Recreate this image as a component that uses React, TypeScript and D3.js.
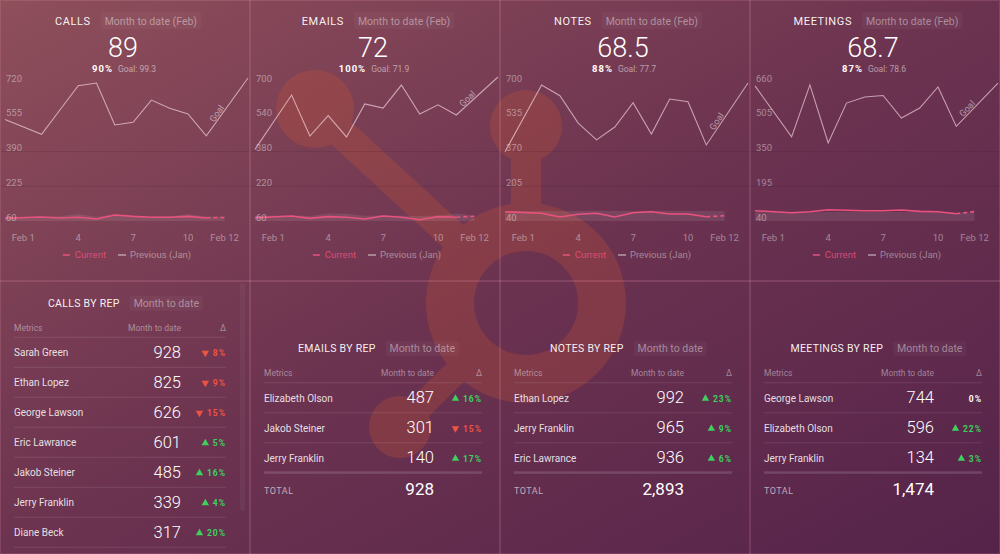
import React from 'react';
import * as d3 from 'd3';

const W = 1000;
const H = 554;
const PANEL_W = 250;
const TOP_H = 281;
const PLOT_RIGHT = 248;
const FONT = 'Roboto, "Noto Sans", sans-serif';

// ---------- KPI chart data ----------
const METRIC_NAMES = ['CALLS', 'EMAILS', 'NOTES', 'MEETINGS'];
const PERIOD_LABEL = 'Month to date (Feb)';
const BIG_VALUES = ['89', '72', '68.5', '68.7'];
const GOAL_PCTS = ['90%', '100%', '88%', '87%'];
const GOAL_VALUES = ['99.3', '71.9', '77.7', '78.6'];

const DAYS = [0, 2, 3, 4, 5, 6, 7, 8, 9, 10, 11];
const AREA_DAYS = [0, 2, 3, 4, 5, 6, 7, 8, 9, 10, 11, 12];
const LAST_DAY = 12;
const X_TICK_DAYS = [1, 4, 7, 10, 12];
const X_TICK_LABELS = ['Feb 1', '4', '7', '10', 'Feb 12'];

const Y_TICKS_CALLS = [60, 225, 390, 555, 720];
const Y_TICKS_EMAILS = [60, 220, 380, 540, 700];
const Y_TICKS_NOTES = [40, 205, 370, 535, 700];
const Y_TICKS_MEETINGS = [40, 195, 350, 505, 660];

// Upper line (with goal segment)
const PREV_CALLS = [542, 472, 587, 702, 715, 516, 529, 634, 595, 568, 464];
const PREV_EMAILS = [390, 640, 451, 545, 447, 599, 580, 686, 553, 595, 548];
const PREV_NOTES = [369, 686, 635, 505, 425, 486, 602, 453, 619, 606, 401];
const PREV_MEETINGS = [643, 415, 647, 388, 566, 593, 600, 499, 544, 638, 462];
const GOAL_TARGETS = [739, 723, 695, 655];

// Current (Feb)
const CUR_CALLS = [73, 79, 74, 78, 69.5, 88.5, 82, 78, 78, 82, 74];
const CUR_EMAILS = [75, 83, 72, 80, 77, 69, 83, 77, 66, 80, 77];
const CUR_NOTES = [84, 77, 59, 72, 77, 59, 79, 84, 73, 73, 60];
const CUR_MEETINGS = [86, 77, 81.5, 90, 88, 86, 86, 89, 83, 81.5, 72.5];
const CUR_PROJECTED = [77, 82, 65, 82];

// Previous (Jan) area
const JAN_CALLS = [80, 80, 82, 93, 80, 92, 82, 80, 82, 92, 82, 80];
const JAN_EMAILS = [84, 85, 83, 94, 93, 84, 86, 84, 83, 85, 94, 85];
const JAN_NOTES = [88, 88, 86, 88, 89, 88, 88, 89, 89, 88, 87, 88];
const JAN_MEETINGS = [80, 80, 79, 80, 81, 80, 80, 80, 80, 79, 78, 79];

const Y_TICKS = [Y_TICKS_CALLS, Y_TICKS_EMAILS, Y_TICKS_NOTES, Y_TICKS_MEETINGS];
const PREV = [PREV_CALLS, PREV_EMAILS, PREV_NOTES, PREV_MEETINGS];
const CUR = [CUR_CALLS, CUR_EMAILS, CUR_NOTES, CUR_MEETINGS];
const JAN = [JAN_CALLS, JAN_EMAILS, JAN_NOTES, JAN_MEETINGS];

// ---------- Tables data ----------
const TABLE_TITLES = ['CALLS BY REP', 'EMAILS BY REP', 'NOTES BY REP', 'MEETINGS BY REP'];
const TABLE_PERIOD = 'Month to date';
const CALLS_REPS = ['Sarah Green', 'Ethan Lopez', 'George Lawson', 'Eric Lawrance', 'Jakob Steiner', 'Jerry Franklin', 'Diane Beck'];
const CALLS_REP_VALUES = [928, 825, 626, 601, 485, 339, 317];
const CALLS_REP_DELTAS = [-8, -9, -15, 5, 16, 4, 20];
const EMAILS_REPS = ['Elizabeth Olson', 'Jakob Steiner', 'Jerry Franklin'];
const EMAILS_REP_VALUES = [487, 301, 140];
const EMAILS_REP_DELTAS = [16, -15, 17];
const NOTES_REPS = ['Ethan Lopez', 'Jerry Franklin', 'Eric Lawrance'];
const NOTES_REP_VALUES = [992, 965, 936];
const NOTES_REP_DELTAS = [23, 9, 6];
const MEETINGS_REPS = ['George Lawson', 'Elizabeth Olson', 'Jerry Franklin'];
const MEETINGS_REP_VALUES = [744, 596, 134];
const MEETINGS_REP_DELTAS = [0, 22, 3];

const REPS = [CALLS_REPS, EMAILS_REPS, NOTES_REPS, MEETINGS_REPS];
const REP_VALUES = [CALLS_REP_VALUES, EMAILS_REP_VALUES, NOTES_REP_VALUES, MEETINGS_REP_VALUES];
const REP_DELTAS = [CALLS_REP_DELTAS, EMAILS_REP_DELTAS, NOTES_REP_DELTAS, MEETINGS_REP_DELTAS];
const SHOW_TOTAL = [false, true, true, true];

// ---------- styles ----------
const PINK = '#e9527f';
const PREV_LINE = 'rgba(255,228,236,0.62)';
const AXIS_TEXT = 'rgba(255,255,255,0.42)';
const RED = '#ec5443';
const GREEN = '#3fcf5e';

let _ctx: CanvasRenderingContext2D | null = null;
function tw(text: string, size: number, weight = 400, ls = 0) {
  if (!_ctx) _ctx = document.createElement('canvas').getContext('2d');
  if (!_ctx) return text.length * size * 0.55;
  _ctx.font = `${weight} ${size}px Roboto`;
  return _ctx.measureText(text).width + ls * text.length;
}

function Logo() {
  const c = 'rgb(208,88,50)';
  const cx = 526, cy = 303;
  const arm = (bx: number, by: number, w: number) => {
    const dx = cx - bx, dy = cy - by;
    const L = Math.hypot(dx, dy);
    const ex = cx - (dx / L) * 80, ey = cy - (dy / L) * 80;
    return <line x1={bx} y1={by} x2={ex} y2={ey} stroke={c} strokeWidth={w} />;
  };
  return (
    <g opacity={0.25}>
      <circle cx={cx} cy={cy} r={76} fill="none" stroke={c} strokeWidth={48} />
      <rect x={511} y={126} width={30} height={100} fill={c} />
      <circle cx={526} cy={126} r={36} fill={c} />
      {arm(315, 109, 30)}
      <circle cx={315} cy={109} r={39} fill={c} />
      {arm(400, 427, 25)}
      <circle cx={400} cy={427} r={31} fill={c} />
    </g>
  );
}

function TopPanel({ i }: { i: number }) {
  const x0 = i * PANEL_W;
  const cx = x0 + PANEL_W / 2;
  const ticks = Y_TICKS[i];
  const y = d3.scaleLinear().domain([ticks[0], ticks[ticks.length - 1]]).range([221, 82]);
  const x = d3.scaleLinear().domain([1, 12]).range([x0 + 23.3, x0 + 224.6]);
  const line = d3.line<[number, number]>();

  const prev = PREV[i];
  const prevPts: [number, number][] = DAYS.map((d, k) => [x(d), y(prev[k])]);
  const gStart = prevPts[prevPts.length - 1];
  const gEnd: [number, number] = [x0 + PLOT_RIGHT, y(GOAL_TARGETS[i])];
  const allPrev = [...prevPts, gEnd];

  const cur = CUR[i];
  const curPts: [number, number][] = DAYS.map((d, k) => [x(d), y(cur[k])]);
  const dashPts: [number, number][] = [curPts[curPts.length - 1], [x(LAST_DAY), y(CUR_PROJECTED[i])]];

  const area = d3.area<[number, number]>().x(d => d[0]).y0(y(ticks[0])).y1(d => d[1]);
  const janPts: [number, number][] = AREA_DAYS.map((d, k) => [x(d), y(JAN[i][k])]);

  const gdx = gEnd[0] - gStart[0], gdy = gEnd[1] - gStart[1];
  const gl = Math.hypot(gdx, gdy);
  const ux = gdx / gl, uy = gdy / gl;
  const t = 0.34;
  const lx = gStart[0] + gdx * t + uy * 1.5;
  const ly = gStart[1] + gdy * t - ux * 1.5;
  const ang = (Math.atan2(gdy, gdx) * 180) / Math.PI;

  const tSize = 11, sSize = 10.5;
  const titleW = tw(METRIC_NAMES[i], tSize, 400, 0.6);
  const subW = tw(PERIOD_LABEL, sSize, 400);
  const gap = 14;
  const tx = cx + 1 - (titleW + gap + subW) / 2;
  const sx = tx + titleW + gap;

  const pctW = tw(GOAL_PCTS[i], 9.5, 700, 1);
  const goalTxt = 'Goal: ' + GOAL_VALUES[i];
  const goalW = tw(goalTxt, 8.5, 400);
  const px = cx - 1 - (pctW + 5 + goalW) / 2;

  const curW = tw('Current', 9.5);
  const prvW = tw('Previous (Jan)', 9.5);
  const legW = 7 + 5 + curW + 12 + 8 + 4 + prvW;
  const lg = cx + 2 - legW / 2;

  return (
    <g>
      {ticks.slice(1, 3).map(v => (
        <line key={v} x1={x0 + 1} x2={x0 + PANEL_W - 1} y1={y(v)} y2={y(v)} stroke="rgba(40,5,30,0.12)" strokeWidth={1} />
      ))}
      <path d={area(janPts) || ''} fill="rgba(255,255,255,0.09)" />
      <path d={line(allPrev) || ''} fill="none" stroke={PREV_LINE} strokeWidth={1.1} />
      <text x={lx} y={ly} transform={`rotate(${ang} ${lx} ${ly})`} textAnchor="middle" fontSize={9} fill="rgba(255,255,255,0.5)">Goal</text>
      <path d={line(curPts) || ''} fill="none" stroke={PINK} strokeWidth={1.6} />
      <path d={line(dashPts) || ''} fill="none" stroke={PINK} strokeWidth={1.6} strokeDasharray="4,3" />
      {ticks.map(v => (
        <text key={v} x={x0 + 6} y={y(v) - 0.5} fontSize={9.5} fill={AXIS_TEXT}>{v}</text>
      ))}
      {X_TICK_DAYS.map((d, k) => (
        <text key={d} x={x(d)} y={241} textAnchor="middle" fontSize={9.5} fill={AXIS_TEXT}>{X_TICK_LABELS[k]}</text>
      ))}
      <line x1={lg} x2={lg + 7} y1={255} y2={255} stroke={PINK} strokeWidth={1.5} />
      <text x={lg + 12} y={258} fontSize={9.5} fill="rgba(233,82,127,0.85)">Current</text>
      <line x1={lg + 12 + curW + 12} x2={lg + 12 + curW + 20} y1={255} y2={255} stroke="rgba(255,255,255,0.5)" strokeWidth={1.5} />
      <text x={lg + 12 + curW + 24} y={258} fontSize={9.5} fill={AXIS_TEXT}>Previous (Jan)</text>
      <text x={tx} y={25} fontSize={tSize} letterSpacing={0.6} fill="rgba(255,255,255,0.95)">{METRIC_NAMES[i]}</text>
      <rect x={sx - 4} y={12} width={subW + 8} height={17} rx={2} fill="rgba(255,255,255,0.035)" />
      <text x={sx} y={25} fontSize={sSize} fill="rgba(255,255,255,0.42)">{PERIOD_LABEL}</text>
      <text x={cx - 2} y={57} textAnchor="middle" fontSize={27} fontWeight={300} fill="#fff">{BIG_VALUES[i]}</text>
      <text x={px} y={71.5} fontSize={9.5} fontWeight={700} letterSpacing={1} fill="#fff">{GOAL_PCTS[i]}</text>
      <text x={px + pctW + 5} y={71.5} fontSize={8.5} fill="rgba(255,255,255,0.5)">{goalTxt}</text>
    </g>
  );
}

function Delta({ v, xr, yb }: { v: number; xr: number; yb: number }) {
  const txt = Math.abs(v) + '%';
  const w = tw(txt, 8.5, 700, 1);
  const color = v > 0 ? GREEN : v < 0 ? RED : '#fff';
  const sx = xr - w;
  const tri = d3.symbol().type(d3.symbolTriangle).size(24)();
  return (
    <g>
      {v !== 0 && (
        <path d={tri || ''} transform={`translate(${sx - 7.5},${yb - 3}) rotate(${v < 0 ? 180 : 0})`} fill={color} />
      )}
      <text x={xr} y={yb} textAnchor="end" fontSize={8.5} fontWeight={700} letterSpacing={1} fill={color}>{txt}</text>
    </g>
  );
}

function TablePanel({ i }: { i: number }) {
  const x0 = i * PANEL_W;
  const off = i === 0 ? 0 : 45.5;
  const nameX = x0 + 14;
  const valR = x0 + (i === 0 ? 181 : 184);
  const dR = x0 + (i === 0 ? 226 : 232);
  const reps = REPS[i];
  const vals = REP_VALUES[i];
  const deltas = REP_DELTAS[i];
  const row = d3.scaleLinear().domain([0, 1]).range([337.3 + off, 367.3 + off]);

  const titleW = tw(TABLE_TITLES[i], 10.5, 400, 0.3);
  const subW = tw(TABLE_PERIOD, 10.5, 400);
  const gcx = x0 + 125 + (i === 0 ? -1.5 : 1.5);
  const tx = gcx - (titleW + 14 + subW) / 2;
  const sx = tx + titleW + 14;
  const tb = 306.7 + off;
  const total = d3.sum(vals);

  return (
    <g>
      <text x={tx} y={tb} fontSize={10.5} letterSpacing={0.3} fill="rgba(255,255,255,0.95)">{TABLE_TITLES[i]}</text>
      <rect x={sx - 4} y={tb - 11} width={subW + 8} height={15} rx={2} fill="rgba(255,255,255,0.035)" />
      <text x={sx} y={tb} fontSize={10.5} fill="rgba(255,255,255,0.42)">{TABLE_PERIOD}</text>

      <text x={nameX} y={330.7 + off} fontSize={8.5} fill={AXIS_TEXT}>Metrics</text>
      <text x={valR} y={330.7 + off} textAnchor="end" fontSize={8.5} fill={AXIS_TEXT}>Month to date</text>
      <text x={dR} y={330.7 + off} textAnchor="end" fontSize={8.5} fill={AXIS_TEXT}>Δ</text>

      {d3.range(reps.length + (SHOW_TOTAL[i] ? 0 : 1)).map(k => (
        <line key={'s' + k} x1={nameX} x2={dR} y1={row(k)} y2={row(k)} stroke="rgba(255,255,255,0.1)" strokeWidth={1} />
      ))}
      {reps.map((r, k) => (
        <g key={r}>
          <text x={nameX} y={row(k) + 19} fontSize={10} fill="rgba(255,255,255,0.85)">{r}</text>
          <text x={valR} y={row(k) + 20.5} textAnchor="end" fontSize={16.5} fontWeight={300} fill="#fff">{vals[k]}</text>
          <Delta v={deltas[k]} xr={dR} yb={row(k) + 18.7} />
        </g>
      ))}
      {SHOW_TOTAL[i] && (
        <g>
          <rect x={nameX} y={row(reps.length) - 1.5} width={dR - nameX} height={2.5} fill="rgba(255,255,255,0.14)" />
          <text x={nameX} y={row(reps.length) + 20.7} fontSize={9} letterSpacing={0.5} fill="rgba(255,255,255,0.6)">TOTAL</text>
          <text x={valR} y={row(reps.length) + 21.7} textAnchor="end" fontSize={17} fill="#fff">{d3.format(',')(total)}</text>
        </g>
      )}
    </g>
  );
}

export default function App() {
  React.useLayoutEffect(() => {
    document.body.style.margin = '0';
  }, []);
  const sep = 'rgba(255,160,190,0.16)';
  return (
    <svg width={W} height={H} fontFamily={FONT} style={{ display: 'block', position: 'absolute', left: 0, top: 0 }}>
      <defs>
        <linearGradient id="bg" x1="0" y1="0" x2="1" y2="1">
          <stop offset="0" stopColor="#8f4f5b" />
          <stop offset="0.5" stopColor="#6c3350" />
          <stop offset="1" stopColor="#55234a" />
        </linearGradient>
      </defs>
      <rect width={W} height={H} fill="url(#bg)" />
      <Logo />
      {[1, 2, 3].map(k => (
        <line key={k} x1={k * PANEL_W} x2={k * PANEL_W} y1={0} y2={H} stroke={sep} strokeWidth={2} />
      ))}
      <line x1={0} x2={W} y1={TOP_H} y2={TOP_H} stroke={sep} strokeWidth={2} />
      <rect x={0.5} y={0.5} width={W - 1} height={H - 1} fill="none" stroke={sep} strokeWidth={1} />
      <rect x={240} y={283} width={5} height={228} rx={2} fill="rgba(255,255,255,0.04)" />
      {[0, 1, 2, 3].map(i => <TopPanel key={'t' + i} i={i} />)}
      {[0, 1, 2, 3].map(i => <TablePanel key={'b' + i} i={i} />)}
    </svg>
  );
}
